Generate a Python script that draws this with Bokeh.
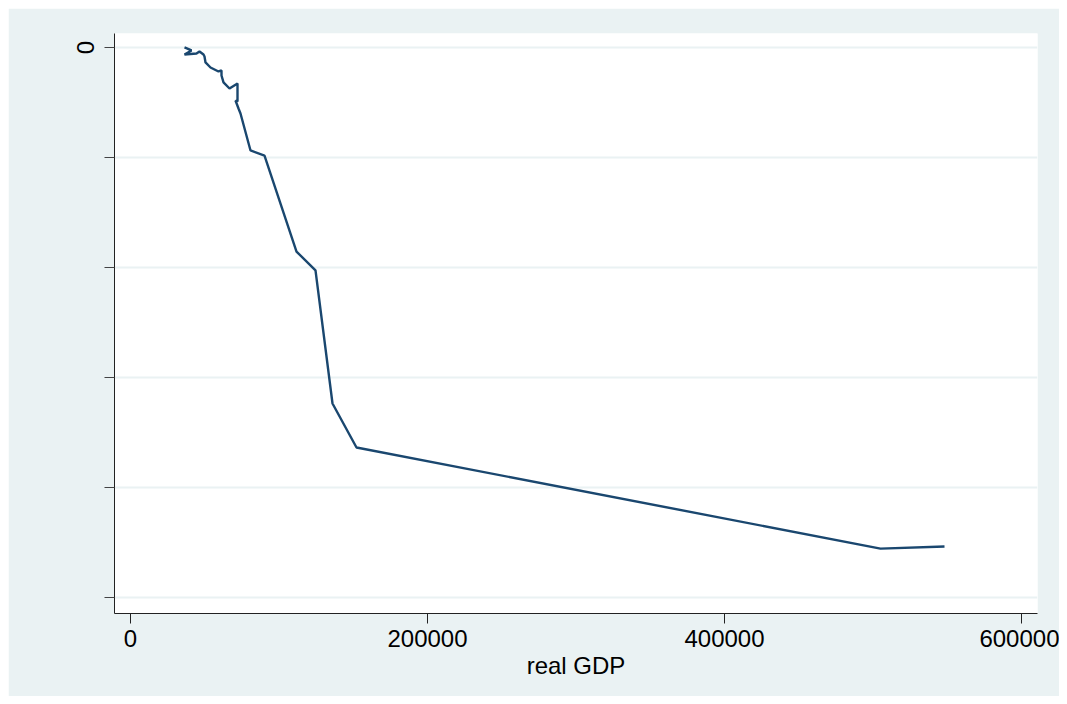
from bokeh.plotting import figure
from bokeh.models import Range1d, FixedTicker
from bokeh.embed import file_html
from bokeh.resources import INLINE

# data (x: real GDP, y: value in units of one y-tick step)
real_gdp = [36364, 41077, 36364, 44444, 46465, 49158, 49832, 50505, 53872, 59259,
            61279, 61279, 62626, 66667, 72054, 72054, 70707, 72727, 74074, 80808,
            90236, 111785, 124579, 136027, 152189, 505050, 548148]
yvals = [0.0, -0.027, -0.064, -0.055, -0.036, -0.064, -0.082, -0.136, -0.182, -0.218,
         -0.209, -0.255, -0.318, -0.373, -0.327, -0.491, -0.482, -0.555, -0.600, -0.936,
         -0.982, -1.855, -2.027, -3.236, -3.636, -4.555, -4.536]
x_ticks = [0, 200000, 400000, 600000]
x_tick_labels = ["0", "200000", "400000", "600000"]
y_ticks = [0, -1, -2, -3, -4, -5]
y_tick_labels = ["0", "", "", "", "", ""]

BG = "#EAF2F3"
FONT = "Liberation Sans"

p = figure(width=1051, height=688, output_backend="svg", toolbar_location=None,
           x_range=Range1d(-10775, 610775), y_range=Range1d(-5.145, 0.127),
           min_border_left=106, min_border_right=22, min_border_top=25, min_border_bottom=83)
p.margin = (8, 8, 8, 8)
p.background_fill_color = "white"
p.border_fill_color = BG
p.outline_line_color = None

p.line(real_gdp, yvals, line_color="#1A476F", line_width=2.4)

# x axis
xa = p.xaxis[0]
xa.ticker = FixedTicker(ticks=x_ticks)
xa.major_label_overrides = {t: lab for t, lab in zip(x_ticks, x_tick_labels)}
xa.axis_label = "real GDP"
xa.axis_label_text_font = FONT
xa.axis_label_text_font_size = "24px"
xa.axis_label_text_font_style = "normal"
xa.axis_label_text_color = "black"
xa.axis_label_standoff = 2
xa.major_label_text_font = FONT
xa.major_label_text_font_size = "24px"
xa.major_label_text_color = "black"
xa.major_label_standoff = 6
xa.major_tick_out = 10
xa.major_tick_in = 0
xa.minor_tick_out = 0
xa.minor_tick_in = 0
xa.axis_line_color = "#222222"
xa.major_tick_line_color = "#222222"

# y axis
ya = p.yaxis[0]
ya.ticker = FixedTicker(ticks=y_ticks)
ya.major_label_overrides = {t: lab for t, lab in zip(y_ticks, y_tick_labels)}
ya.major_label_orientation = "vertical"
ya.major_label_text_font = FONT
ya.major_label_text_font_size = "24px"
ya.major_label_text_color = "black"
ya.major_label_standoff = 10
ya.major_tick_out = 10
ya.major_tick_in = 0
ya.minor_tick_out = 0
ya.minor_tick_in = 0
ya.axis_line_color = "#222222"
ya.major_tick_line_color = "#444444"

p.xgrid.grid_line_color = None
p.ygrid.grid_line_color = BG
p.ygrid.grid_line_width = 2

open("out.html", "w").write(file_html(p, INLINE))
